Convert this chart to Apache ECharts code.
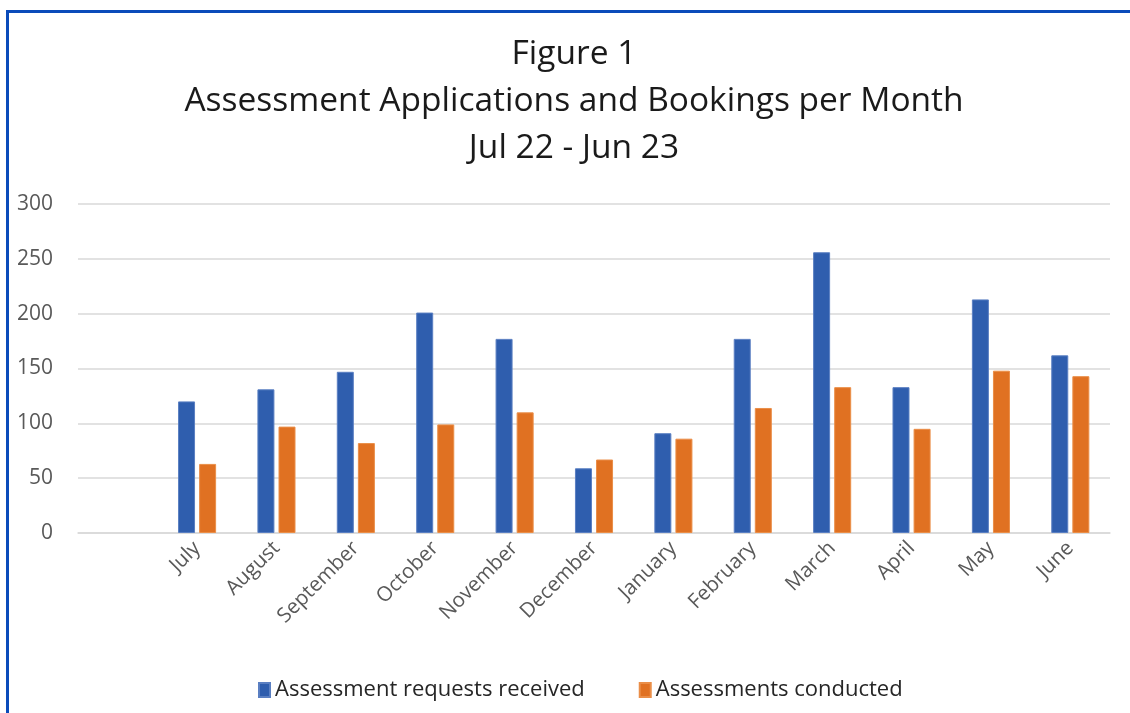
<!DOCTYPE html>
<html>
<head>
<meta charset="utf-8">
<script src="https://cdn.jsdelivr.net/npm/echarts@6/dist/echarts.min.js"></script>
<style>
html,body{margin:0;padding:0;background:#fff;}
#chart{position:absolute;left:0;top:0;width:1130px;height:713px;}
#frame{position:absolute;left:6px;top:10px;right:-10px;bottom:-10px;border-top:3px solid #0A4BBA;border-left:3px solid #0A4BBA;pointer-events:none;}
</style>
</head>
<body>
<div id="chart"></div>
<div id="frame"></div>
<script>
const categories = ['', 'July', 'August', 'September', 'October', 'November', 'December', 'January', 'February', 'March', 'April', 'May', 'June'];
const requestsReceived = [null, 120, 131, 147, 201, 177, 59, 91, 177, 256, 133, 213, 162];
const assessmentsConducted = [null, 63, 97, 82, 99, 110, 67, 86, 114, 133, 95, 148, 143];
const yTicks = { min: 0, max: 300, interval: 50 };
const titleLines = ['Figure 1', 'Assessment Applications and Bookings per Month', 'Jul 22 - Jun 23'];

const chart = echarts.init(document.getElementById('chart'), null, { renderer: 'canvas' });
const font = "'Open Sans', sans-serif";
chart.setOption({
  animation: false,
  backgroundColor: '#ffffff',
  title: {
    text: titleLines.join('\n'),
    left: 569,
    top: 26,
    textAlign: 'center',
    textStyle: { fontFamily: font, fontSize: 33.5, fontWeight: 'normal', color: '#1a1a1a', lineHeight: 47 }
  },
  legend: {
    bottom: 7,
    left: 253,
    icon: 'rect',
    itemWidth: 11,
    itemHeight: 14,
    itemGap: 54,
    textStyle: { fontFamily: font, fontSize: 22, color: '#262626' },
    data: ['Assessment requests received', 'Assessments conducted']
  },
  grid: { left: 78, right: 20, top: 204, bottom: 180, containLabel: false },
  xAxis: {
    type: 'category',
    data: categories,
    axisLine: { show: true, lineStyle: { color: '#D9D9D9', width: 1.5 } },
    axisTick: { show: false },
    axisLabel: { rotate: 45, margin: 12, fontFamily: font, fontSize: 20.5, color: '#595959', interval: 0 }
  },
  yAxis: {
    type: 'value',
    min: yTicks.min,
    max: yTicks.max,
    interval: yTicks.interval,
    axisLine: { show: false },
    axisTick: { show: false },
    axisLabel: { margin: 25, fontFamily: font, fontSize: 21, color: '#595959' },
    splitLine: { lineStyle: { color: '#D9D9D9', width: 1.5 } }
  },
  series: [
    {
      name: 'Assessment requests received',
      type: 'bar',
      data: requestsReceived,
      barWidth: 17,
      barGap: '24%',
      itemStyle: { color: '#2F5EAE', borderColor: '#5A7FC2', borderWidth: 1 }
    },
    {
      name: 'Assessments conducted',
      type: 'bar',
      data: assessmentsConducted,
      barWidth: 17,
      barGap: '24%',
      itemStyle: { color: '#E07122', borderColor: '#EA8E48', borderWidth: 1 }
    }
  ]
});
</script>
</body>
</html>
